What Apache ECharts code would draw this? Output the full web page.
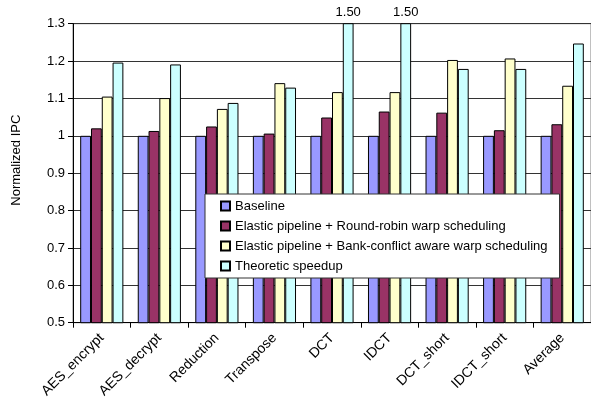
<!DOCTYPE html>
<html>
<head>
<meta charset="utf-8">
<script src="https://cdn.jsdelivr.net/npm/echarts@6/dist/echarts.min.js"></script>
<style>html,body{margin:0;padding:0;background:#fff}#c{width:591px;height:402px}</style>
</head>
<body>
<div id="c"></div>
<script>
const categories = ['AES_encrypt','AES_decrypt','Reduction','Transpose','DCT','IDCT','DCT_short','IDCT_short','Average'];
const seriesNames = ['Baseline','Elastic pipeline + Round-robin warp scheduling','Elastic pipeline + Bank-conflict aware warp scheduling','Theoretic speedup'];
const baseline   = [1, 1, 1, 1, 1, 1, 1, 1, 1];
const roundRobin = [1.020, 1.013, 1.025, 1.006, 1.049, 1.065, 1.062, 1.015, 1.031];
const bankAware  = [1.105, 1.101, 1.072, 1.141, 1.117, 1.117, 1.203, 1.207, 1.134];
const theoretic  = [1.196, 1.191, 1.088, 1.129, 1.50, 1.50, 1.179, 1.179, 1.247];
const yMin = 0.5, yMax = 1.3, yStep = 0.1;
const colors = ['#9999FF','#993366','#FFFFCC','#CCFFFF'];

const FONT = "'Liberation Sans', Arial, sans-serif";
const allData = [baseline, roundRobin, bankAware, theoretic];

const chart = echarts.init(document.getElementById('c'), null, {renderer:'canvas'});
const series = allData.map((arr, i) => ({
  name: seriesNames[i],
  type: 'bar',
  barGap: '0%',
  barCategoryGap: '25%',
  clip: true,
  itemStyle: { color: colors[i], borderColor: '#000', borderWidth: 1 },
  data: arr.map(v => v > yMax ? {
    value: v,
    label: { show: true, position: 'top', distance: 4, formatter: v.toFixed(2),
             color: '#000', fontSize: 13, fontFamily: FONT }
  } : v)
}));

chart.setOption({
  animation: false,
  backgroundColor: '#fff',
  textStyle: { fontFamily: FONT },
  grid: { left: 73, right: 0, top: 23.7, bottom: 79.3, show: true, borderColor: '#808080', borderWidth: 1 },
  legend: {
    orient: 'vertical',
    left: 205, top: 194,
    backgroundColor: '#fff',
    borderColor: '#333', borderWidth: 1,
    padding: [5, 12, 5, 15],
    itemWidth: 9, itemHeight: 9, itemGap: 6,
    icon: 'rect',
    textStyle: { fontSize: 13, color: '#000', fontFamily: FONT, lineHeight: 14 },
    data: seriesNames
  },
  xAxis: {
    type: 'category',
    data: categories,
    axisLine: { lineStyle: { color: '#000', width: 1 } },
    axisTick: { show: true, length: 5, alignWithLabel: false, lineStyle: { color: '#000' } },
    axisLabel: { rotate: 45, interval: 0, fontSize: 14, color: '#000', fontFamily: FONT, margin: 13 }
  },
  yAxis: {
    type: 'value',
    min: yMin, max: yMax, interval: yStep,
    name: 'Normalized IPC',
    nameLocation: 'middle',
    nameGap: 50,
    nameTextStyle: { fontSize: 13, color: '#000', fontFamily: FONT, padding: [0, 0, 0, 26] },
    axisLine: { show: true, lineStyle: { color: '#000', width: 1 } },
    axisTick: { show: true, length: 5, lineStyle: { color: '#000' } },
    axisLabel: { fontSize: 13, color: '#000', fontFamily: FONT, margin: 8 },
    splitLine: { show: true, lineStyle: { color: '#333', width: 1 } }
  },
  series: series
});
</script>
</body>
</html>
